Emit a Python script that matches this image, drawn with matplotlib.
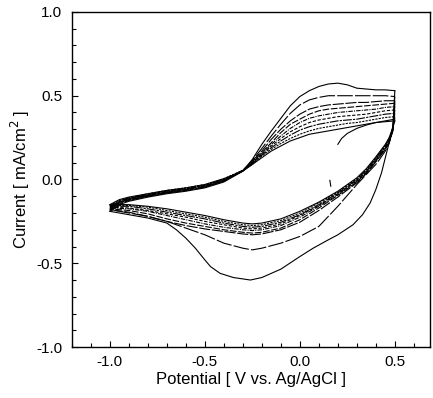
import numpy as np
import matplotlib
matplotlib.use("Agg")
import matplotlib.pyplot as plt
from matplotlib.ticker import MultipleLocator

plt.rcParams['font.family'] = ['Liberation Sans', 'DejaVu Sans']
plt.rcParams['axes.unicode_minus'] = False

# anodic (forward) scans, -1.0 -> 0.5 V, outermost cycle first
fwd_x = [-1.0, -0.95, -0.9, -0.8, -0.7, -0.6, -0.5, -0.4, -0.3, -0.25, -0.2, -0.15, -0.1,
         -0.05, 0.0, 0.05, 0.1, 0.15, 0.2, 0.25, 0.3, 0.35, 0.4, 0.45, 0.5]
fwd_1 = [-0.19, -0.15, -0.13, -0.105, -0.085, -0.07, -0.05, -0.015, 0.05, 0.12, 0.21, 0.29, 0.365,
         0.44, 0.495, 0.53, 0.555, 0.57, 0.575, 0.565, 0.545, 0.54, 0.535, 0.535, 0.53]
fwd_2 = [-0.185, -0.145, -0.125, -0.10, -0.08, -0.065, -0.045, -0.01, 0.055, 0.115, 0.185, 0.26, 0.33,
         0.395, 0.445, 0.475, 0.49, 0.50, 0.50, 0.50, 0.50, 0.50, 0.50, 0.50, 0.495]
fwd_3 = [-0.18, -0.14, -0.12, -0.10, -0.08, -0.065, -0.045, -0.01, 0.05, 0.11, 0.17, 0.24, 0.30,
         0.35, 0.39, 0.42, 0.435, 0.445, 0.45, 0.455, 0.46, 0.46, 0.465, 0.47, 0.47]
fwd_4 = [-0.175, -0.135, -0.12, -0.095, -0.075, -0.06, -0.04, -0.005, 0.055, 0.105, 0.16, 0.22, 0.28,
         0.33, 0.36, 0.39, 0.41, 0.42, 0.425, 0.43, 0.435, 0.44, 0.445, 0.45, 0.455]
fwd_5 = [-0.17, -0.135, -0.115, -0.095, -0.075, -0.06, -0.04, -0.005, 0.05, 0.10, 0.155, 0.21, 0.26,
         0.305, 0.34, 0.365, 0.38, 0.39, 0.40, 0.405, 0.41, 0.415, 0.42, 0.43, 0.435]
fwd_6 = [-0.165, -0.13, -0.115, -0.09, -0.07, -0.055, -0.035, 0.0, 0.055, 0.10, 0.15, 0.20, 0.245,
         0.285, 0.315, 0.34, 0.355, 0.365, 0.375, 0.38, 0.385, 0.39, 0.40, 0.41, 0.415]
fwd_7 = [-0.16, -0.13, -0.11, -0.09, -0.07, -0.055, -0.035, 0.0, 0.05, 0.095, 0.145, 0.19, 0.23,
         0.265, 0.295, 0.315, 0.33, 0.34, 0.35, 0.355, 0.36, 0.37, 0.38, 0.39, 0.395]
fwd_8 = [-0.155, -0.125, -0.11, -0.085, -0.065, -0.05, -0.03, 0.005, 0.055, 0.09, 0.14, 0.18, 0.215,
         0.245, 0.27, 0.29, 0.305, 0.315, 0.325, 0.335, 0.34, 0.35, 0.36, 0.37, 0.375]
fwd_9 = [-0.15, -0.12, -0.105, -0.085, -0.065, -0.05, -0.03, 0.005, 0.05, 0.09, 0.13, 0.17, 0.20,
         0.23, 0.25, 0.27, 0.28, 0.29, 0.30, 0.31, 0.32, 0.33, 0.34, 0.345, 0.35]

# cathodic (reverse) scans, 0.5 -> -1.0 V
rev_x1 = [0.5, 0.49, 0.47, 0.45, 0.43, 0.4, 0.37, 0.33, 0.28, 0.2, 0.15, 0.07, 0.0, -0.1, -0.2,
          -0.26, -0.35, -0.42, -0.47, -0.5, -0.55, -0.6, -0.65, -0.7, -0.8, -0.9, -1.0]
rev_1 = [0.53, 0.32, 0.22, 0.13, 0.04, -0.06, -0.14, -0.21, -0.27, -0.33, -0.36, -0.41, -0.46, -0.535,
         -0.585, -0.60, -0.585, -0.56, -0.52, -0.48, -0.41, -0.35, -0.30, -0.26, -0.23, -0.21, -0.19]
rev_x = [0.5, 0.49, 0.47, 0.45, 0.42, 0.4, 0.35, 0.3, 0.2, 0.1, 0.0, -0.1, -0.2, -0.25, -0.3,
         -0.4, -0.5, -0.6, -0.7, -0.8, -0.9, -1.0]
rev_2 = [0.495, 0.30, 0.215, 0.17, 0.12, 0.09, 0.03, -0.03, -0.16, -0.28, -0.34, -0.38, -0.41, -0.42,
         -0.41, -0.38, -0.33, -0.29, -0.25, -0.22, -0.20, -0.18]
rev_3 = [0.47, 0.29, 0.22, 0.18, 0.135, 0.105, 0.035, -0.02, -0.105, -0.185, -0.255, -0.30, -0.325,
         -0.33, -0.325, -0.31, -0.295, -0.275, -0.25, -0.22, -0.195, -0.18]
rev_4 = [0.455, 0.295, 0.225, 0.185, 0.14, 0.11, 0.04, -0.015, -0.095, -0.17, -0.24, -0.29, -0.315,
         -0.32, -0.315, -0.30, -0.28, -0.26, -0.235, -0.205, -0.185, -0.175]
rev_5 = [0.435, 0.30, 0.23, 0.19, 0.145, 0.115, 0.045, -0.01, -0.09, -0.16, -0.225, -0.275, -0.30,
         -0.305, -0.30, -0.285, -0.265, -0.24, -0.215, -0.19, -0.175, -0.17]
rev_6 = [0.415, 0.30, 0.235, 0.195, 0.15, 0.12, 0.05, -0.005, -0.085, -0.155, -0.215, -0.265, -0.29,
         -0.295, -0.29, -0.27, -0.25, -0.225, -0.205, -0.185, -0.17, -0.165]
rev_7 = [0.395, 0.305, 0.24, 0.20, 0.155, 0.125, 0.055, 0.0, -0.08, -0.15, -0.21, -0.255, -0.28,
         -0.285, -0.28, -0.26, -0.235, -0.215, -0.195, -0.175, -0.16, -0.16]
rev_8 = [0.375, 0.31, 0.245, 0.205, 0.16, 0.13, 0.06, 0.005, -0.075, -0.14, -0.20, -0.245, -0.27,
         -0.275, -0.27, -0.25, -0.225, -0.205, -0.185, -0.165, -0.155, -0.155]
rev_9 = [0.35, 0.31, 0.25, 0.21, 0.165, 0.135, 0.065, 0.01, -0.07, -0.135, -0.19, -0.235, -0.26,
         -0.265, -0.26, -0.24, -0.215, -0.195, -0.175, -0.16, -0.15, -0.15]

# first partial scan starting at 0.2 V, and a stray stroke
start_x = [0.2, 0.22, 0.25, 0.3, 0.35, 0.4, 0.45, 0.5]
start_y = [0.21, 0.245, 0.275, 0.305, 0.325, 0.34, 0.35, 0.36]
stray_x = [0.163, 0.158]
stray_y = [-0.04, -0.005]

fwd = [fwd_1, fwd_2, fwd_3, fwd_4, fwd_5, fwd_6, fwd_7, fwd_8, fwd_9]
rev = [rev_1, rev_2, rev_3, rev_4, rev_5, rev_6, rev_7, rev_8, rev_9]
styles = ['-', (0, (14, 2)), (0, (10, 1.5)), (0, (6, 1.5)), (0, (4, 1, 1, 1)),
          (0, (3, 1.5)), (0, (8, 1, 2, 1)), (0, (2, 1)), '-']

fig = plt.figure(figsize=(4.33, 3.98), dpi=100)
ax = fig.add_axes([0.166, 0.128, 0.827, 0.842])

for i in range(9):
    ax.plot(fwd_x, fwd[i], color='black', lw=0.8, ls=styles[i])
    rx = rev_x1 if i == 0 else rev_x
    ax.plot(rx, rev[i], color='black', lw=0.8, ls=styles[i])
ax.plot(start_x, start_y, color='black', lw=0.8)
ax.plot(stray_x, stray_y, color='black', lw=0.8)

ax.set_xlim(-1.2, 0.685)
ax.set_ylim(-1.0, 1.0)
ax.xaxis.set_major_locator(MultipleLocator(0.5))
ax.xaxis.set_minor_locator(MultipleLocator(0.1))
ax.yaxis.set_major_locator(MultipleLocator(0.5))
ax.yaxis.set_minor_locator(MultipleLocator(0.1))
ax.tick_params(which='both', direction='in', top=False, right=False, labelsize=11)
ax.tick_params(which='major', length=4, width=0.8)
ax.tick_params(axis='x', which='major', pad=6)
ax.tick_params(axis='y', which='major', pad=7)
ax.tick_params(which='minor', length=3, width=0.8)
ax.set_xticks([-1.0, -0.5, 0.0, 0.5])
ax.set_xticklabels(['-1.0', '-0.5', '0.0', '0.5'])
ax.set_yticks([-1.0, -0.5, 0.0, 0.5, 1.0])
ax.set_yticklabels(['-1.0', '-0.5', '0.0', '0.5', '1.0'])
for s in ax.spines.values():
    s.set_linewidth(1.0)

ax.set_xlabel('Potential [ V vs. Ag/AgCl ]', fontsize=12, labelpad=2)
ax.set_ylabel('Current [ mA/cm$^2$ ]', fontsize=12, labelpad=3)

fig.savefig('out.png', dpi=100)
